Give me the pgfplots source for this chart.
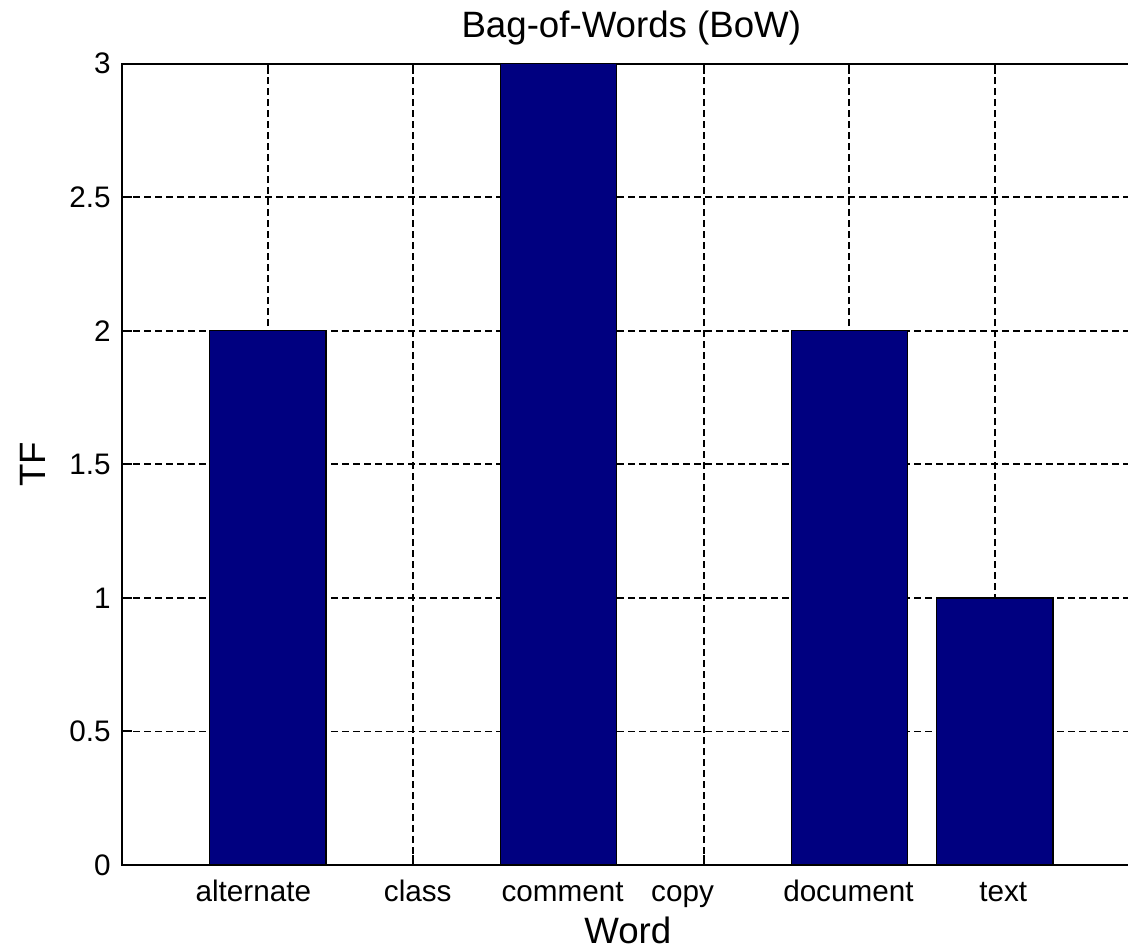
\documentclass[border=0pt]{standalone}
\usepackage{pgfplots}
\pgfplotsset{compat=1.18}
\usepackage{fontspec}
\setmainfont{Liberation Sans}
\definecolor{barnavy}{RGB}{0,0,128}
\begin{document}
\begin{tikzpicture}
\begin{axis}[
  name=ax,
  scale only axis,
  width=305.3pt, height=240.45pt,
  xmin=0, xmax=7, ymin=0, ymax=3,
  enlargelimits=false,
  axis line style={line width=0.6pt},
  xtick={1,2,3,4,5,6},
  xticklabels={\hspace*{-8.7pt}alternate, \hspace*{2.7pt}class, \hspace*{2.4pt}comment, \hspace*{-12.9pt}copy, \hspace*{-0.6pt}document, \hspace*{5.1pt}text},
  ytick={0,0.5,1,1.5,2,2.5,3},
  tick align=inside, major tick length=3pt,
  every tick/.style={black, line width=0.6pt},
  grid=major,
  major grid style={black, line width=0.55pt, dash pattern=on 2.1pt off 1.2pt},
  ticklabel style={font=\fontsize{8.9}{10}\selectfont},
  /pgf/number format/assume math mode=true,
  yticklabel style={anchor=east},
  xticklabel style={anchor=base, yshift=-10.8pt},
  title={Bag-of-Words (BoW)},
  every axis title/.style={font=\fontsize{11}{13}\selectfont, at={(axis description cs:0.5,1)}, anchor=base, yshift=7.8pt},
  xlabel={Word},
  every axis x label/.style={font=\fontsize{11}{13}\selectfont, at={(axis description cs:0.4966,0)}, anchor=base, yshift=-23.4pt},
  ylabel={TF},
  every axis y label/.style={font=\fontsize{11}{13}\selectfont, at={(axis description cs:-0.0879,0.5)}, rotate=90, anchor=center},
]
\addplot[ybar, bar width=0.8, fill=barnavy, draw=black, line width=0.4pt] coordinates {(1,2) (2,0) (3,3) (4,0) (5,2) (6,1)};
\end{axis}
\pgfresetboundingbox
\path[use as bounding box] ([shift={(-36.75pt,-25.2pt)}]ax.south west) rectangle ([shift={(301.65pt,259.5pt)}]ax.south west);
\end{tikzpicture}
\end{document}
